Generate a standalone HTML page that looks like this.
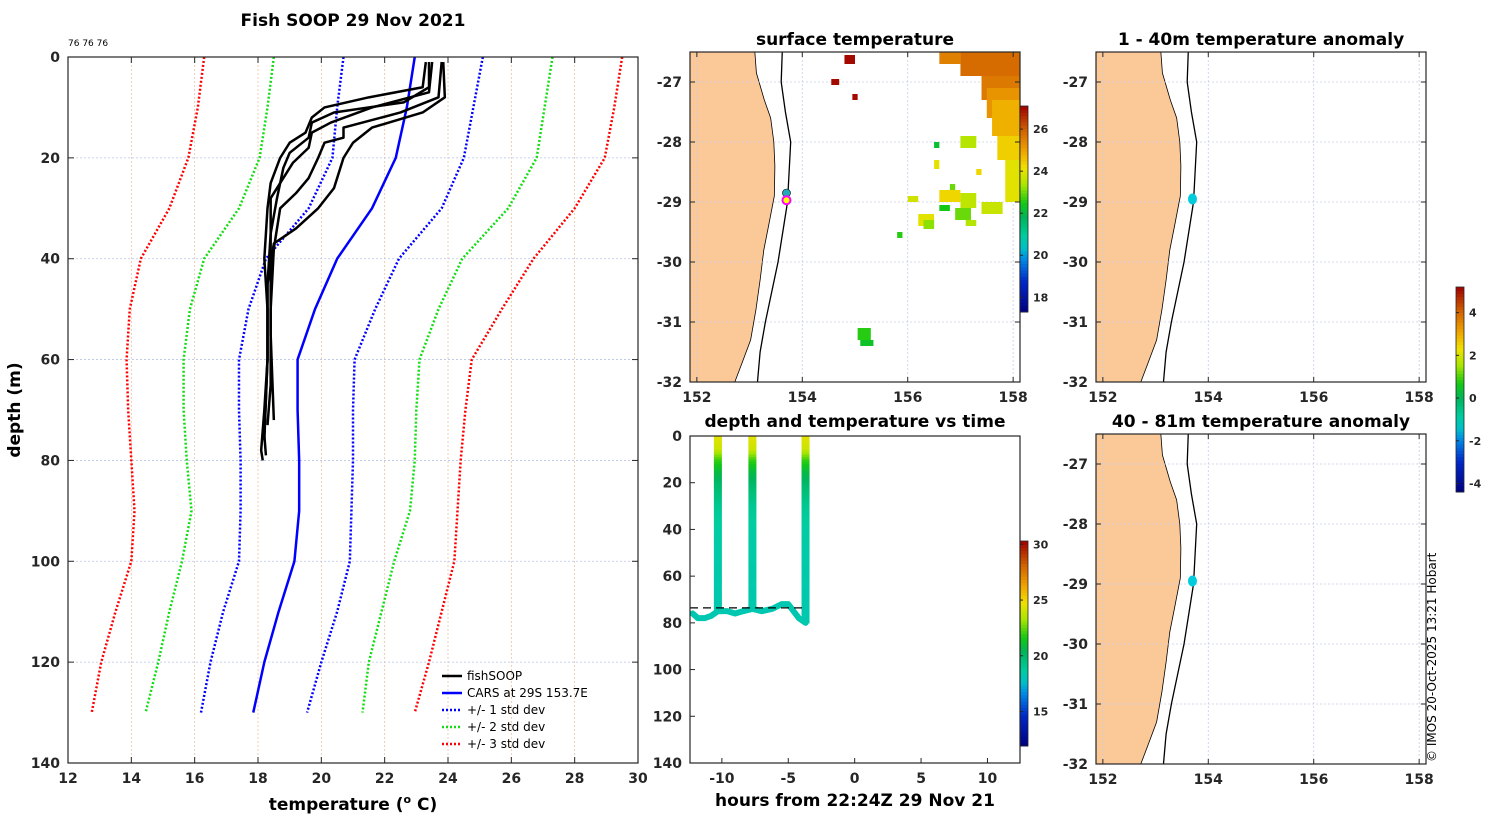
<!DOCTYPE html>
<html><head><meta charset="utf-8"><style>
html,body{margin:0;padding:0;background:#fff;}
svg{display:block;font-family:"DejaVu Sans","Liberation Sans",sans-serif;}
.tk{font-size:14px;font-weight:bold;fill:#262626;}
.tt{font-size:17px;font-weight:bold;fill:#000;}
</style></head><body>
<svg id="fig" width="1500" height="820" viewBox="0 0 1500 820"></svg>
<script>
// ---------- profile chart data ----------
const stdDepths = [0,10,20,30,40,50,60,70,80,90,100,110,120,130];
const red1 = [16.3,16.1,15.8,15.2,14.3,13.95,13.85,13.9,14.0,14.1,14.0,13.5,13.05,12.75];
const green1 = [18.5,18.3,18.05,17.4,16.3,15.85,15.65,15.65,15.75,15.9,15.6,15.2,14.85,14.45];
const blue1 = [20.7,20.5,20.35,19.6,18.25,17.7,17.4,17.4,17.45,17.45,17.4,16.9,16.5,16.2];
const cars = [22.95,22.7,22.35,21.6,20.5,19.8,19.25,19.25,19.3,19.3,19.15,18.65,18.2,17.85];
const blue2 = [25.1,24.8,24.5,23.8,22.45,21.7,21.05,21.0,21.0,20.95,20.9,20.5,20.0,19.55];
const green2 = [27.3,27.05,26.8,25.9,24.45,23.7,23.1,23.0,22.95,22.8,22.3,21.9,21.5,21.3];
const red2 = [29.5,29.25,28.95,28.0,26.7,25.7,24.75,24.55,24.4,24.3,24.2,23.8,23.4,22.95];
const fishDepths = [
 [1,6,8,10,12,15,17,20,25,30,40,50,60,70,78,80],
 [1,6,9,11,13,16,19,22,28,35,45,60,75,79],
 [1,7,10,13,15,18,21,25,28,40,55,72],
 [1,8,11,14,16,17,20,24,27,30,38,50,65,73],
 [1,8,11,14,17,20,26,30,34,37,45,60,76]];
const fishTemps = [
 [23.3,23.2,21.5,20.1,19.7,19.5,19.0,18.7,18.4,18.3,18.2,18.3,18.3,18.2,18.1,18.15],
 [23.4,23.4,22.6,20.4,19.7,19.6,19.0,18.8,18.6,18.4,18.3,18.3,18.2,18.25],
 [23.5,23.4,21.6,20.3,19.7,19.6,19.1,18.7,18.4,18.4,18.4,18.5],
 [23.8,23.7,22.5,20.7,20.7,20.1,19.9,19.6,19.2,18.7,18.5,18.4,18.4,18.3],
 [23.85,23.9,23.2,21.6,21.0,20.7,20.4,19.9,19.2,18.5,18.3,18.3,18.2]];
const tempTicks = [12,14,16,18,20,22,24,26,28,30];
const depthTicks = [0,20,40,60,80,100,120,140];

// ---------- map data ----------
const lonTicks = [152,154,156,158];
const latTicks = [-27,-28,-29,-30,-31,-32];
const coastLat = [-26.5,-26.85,-27.3,-27.6,-28.0,-28.4,-28.9,-29.4,-29.8,-30.3,-30.8,-31.3,-31.7,-32.0];
const coastLon = [153.10,153.13,153.28,153.40,153.46,153.48,153.47,153.36,153.27,153.20,153.12,153.02,152.85,152.72];
const shelfLat = [-26.5,-27.0,-27.5,-28.0,-28.5,-29.0,-29.5,-30.0,-30.5,-31.0,-31.5,-32.0];
const shelfLon = [153.62,153.60,153.68,153.78,153.75,153.72,153.63,153.54,153.42,153.30,153.20,153.15];
// SST blocks: lon0, lat0, lon1, lat1, temperature
const sstLon0 = [156.6,157.0,157.4,157.5,157.7,157.85,156.6,157.0,157.4,156.9,156.2,156.6,157.1,156.5,157.2,154.8,154.55,154.95,155.05,155.1,156.5,156.8,155.8,157.3,157.6,156.0,156.3,157.0];
const sstLat0 = [-26.5,-26.5,-26.9,-27.1,-27.6,-28.3,-28.8,-28.85,-29.0,-29.1,-29.2,-29.05,-29.3,-28.3,-27.9,-26.55,-26.95,-27.2,-31.1,-31.3,-28.0,-28.7,-29.5,-28.45,-27.3,-28.9,-29.3,-27.9];
const sstLon1 = [157.0,158.13,158.13,158.13,158.13,158.13,157.0,157.3,157.8,157.2,156.5,156.8,157.3,156.6,157.3,155.0,154.7,155.05,155.3,155.35,156.6,156.9,155.9,157.4,158.13,156.2,156.5,157.3];
const sstLat1 = [-26.7,-26.9,-27.3,-27.6,-28.3,-29.0,-29.0,-29.1,-29.2,-29.3,-29.4,-29.15,-29.4,-28.45,-28.0,-26.7,-27.05,-27.3,-31.3,-31.4,-28.1,-28.8,-29.6,-28.55,-27.9,-29.0,-29.45,-28.1];
const sstVal = [25.5,25.8,25.6,25.2,24.4,24.0,24.3,23.6,23.7,23.0,24.0,22.5,23.5,24.0,23.8,27.0,27.0,27.0,22.6,22.3,22.2,23.0,22.6,24.3,24.8,23.8,23.2,23.5];
const pointLon = 153.7, pointLat = -28.95;

// ---------- depth/time data ----------
const castHours = [-10.3,-7.7,-3.7];
const castMaxDepth = [76,74,80];
const profDepth = [0,5,10,15,20,30,40,60,80];
const profTemp = [24.5,24.0,22.0,20.8,20.0,19.0,18.6,18.4,18.3];
const bottomHours = [-12.2,-11.8,-11.3,-10.8,-10.3,-9.6,-9.0,-8.4,-7.7,-7.0,-6.2,-5.5,-5.0,-4.6,-4.2,-3.7];
const bottomDepth = [76,78,78,77,75,75,76,75,74,75,74,72,72,75,78,80];
const dashDepth = 73.6;
const hourTicks = [-10,-5,0,5,10];
const dtDepthTicks = [0,20,40,60,80,100,120,140];

const NS="http://www.w3.org/2000/svg";
const svg=document.getElementById('fig');
function el(tag,attrs,parent,txt){const e=document.createElementNS(NS,tag);for(const k in attrs)e.setAttribute(k,attrs[k]);if(txt!==undefined)e.textContent=txt;(parent||svg).appendChild(e);return e;}
const CM=[[0,0,0,128],[0.15,0,40,200],[0.26,0,140,230],[0.31,0,190,200],[0.37,0,205,160],[0.46,0,180,90],[0.53,20,200,20],[0.62,170,230,0],[0.70,240,225,0],[0.78,240,165,0],[0.88,210,100,0],[1,160,0,0]];
function jet(t){t=Math.max(0,Math.min(1,t));for(let i=1;i<CM.length;i++){if(t<=CM[i][0]){const a=CM[i-1],b=CM[i],f=(t-a[0])/(b[0]-a[0]);return `rgb(${Math.round(a[1]+f*(b[1]-a[1]))},${Math.round(a[2]+f*(b[2]-a[2]))},${Math.round(a[3]+f*(b[3]-a[3]))})`;}}return 'rgb(160,0,0)';}

// ===== Profile panel =====
const PX0=68,PX1=638,PY0=57,PY1=763;
const px=t=>PX0+(t-12)/18*(PX1-PX0), py=d=>PY0+d/140*(PY1-PY0);
const gP=el('g',{},svg);


tempTicks.forEach(t=>{const l=el('line',{x1:px(t),x2:px(t),y1:PY0,y2:PY1,stroke:'#e8c0a8','stroke-width':0.8,'stroke-dasharray':'2,2'},gP);});
depthTicks.forEach(d=>{const l=el('line',{x1:PX0,x2:PX1,y1:py(d),y2:py(d),stroke:'#b8c4e8','stroke-width':0.8,'stroke-dasharray':'2,2'},gP);});
function poly(temps,depths,color,dotted,w,name){const pts=temps.map((t,i)=>px(t)+','+py(depths[i])).join(' ');const p=el('polyline',{points:pts,fill:'none',stroke:color,'stroke-width':w,'stroke-dasharray':dotted?'2,2':'none','stroke-linejoin':'round'},gP);}
poly(red1,stdDepths,'#f00',true,2.5,'std3-lower');
poly(green1,stdDepths,'#1d1',true,2.5,'std2-lower');
poly(blue1,stdDepths,'#00f',true,2.5,'std1-lower');
poly(blue2,stdDepths,'#00f',true,2.5,'std1-upper');
poly(green2,stdDepths,'#1d1',true,2.5,'std2-upper');
poly(red2,stdDepths,'#f00',true,2.5,'std3-upper');
poly(cars,stdDepths,'#00f',false,2.5,'cars-profile');
fishTemps.forEach((ts,i)=>poly(ts,fishDepths[i],'#000',false,2.5,'fish-profile'));
el('rect',{x:PX0,y:PY0,width:PX1-PX0,height:PY1-PY0,fill:'none',stroke:'#262626','stroke-width':1.2},gP);
tempTicks.forEach(t=>{el('line',{x1:px(t),x2:px(t),y1:PY1,y2:PY1-6,stroke:'#262626'},gP);el('line',{x1:px(t),x2:px(t),y1:PY0,y2:PY0+6,stroke:'#262626'},gP);const x=el('text',{x:px(t),y:PY1+20,'text-anchor':'middle',class:'tk'},gP,t);});
depthTicks.forEach(d=>{el('line',{x1:PX0,x2:PX0+6,y1:py(d),y2:py(d),stroke:'#262626'},gP);el('line',{x1:PX1,x2:PX1-6,y1:py(d),y2:py(d),stroke:'#262626'},gP);const x=el('text',{x:PX0-8,y:py(d)+5,'text-anchor':'end',class:'tk'},gP,d);});
let t=el('text',{x:353,y:26,'text-anchor':'middle',class:'tt'},gP,'Fish SOOP 29 Nov 2021');
t=el('text',{x:68,y:46,'font-size':'9px',fill:'#000'},gP,'76 76 76');
t=el('text',{x:20,y:410,'text-anchor':'middle',class:'tt',transform:'rotate(-90 20 410)'},gP,'depth (m)');
t=el('text',{x:353,y:810,'text-anchor':'middle',class:'tt'},gP);t.innerHTML='temperature (<tspan font-size="11" dy="-7">o</tspan><tspan dy="7"> C)</tspan>';
const lg=el('g',{},gP);
const legNames=['fishSOOP','CARS at 29S 153.7E','+/- 1 std dev','+/- 2 std dev','+/- 3 std dev'];
const legCols=['#000','#00f','#00f','#1d1','#f00'];
legNames.forEach((n,i)=>{const y=676+i*17;const g=el('g',{},lg);el('line',{x1:442,x2:462,y1:y,y2:y,stroke:legCols[i],'stroke-width':2.5,'stroke-dasharray':i>1?'2,2':'none'},g);el('text',{x:467,y:y+4,'font-size':'12px',fill:'#000'},g,n);});

// ===== Map panels =====
function drawMap(ox,oy,title,name,sst){
 const X0=ox,X1=ox+330,Y0=oy,Y1=oy+330;
 const mx=lon=>X0+(lon-151.87)/(158.13-151.87)*330, my=lat=>Y0+(-26.5-lat)/5.5*330;
 const g=el('g',{},svg);
 const land=[mx(151.87)+','+my(-26.5)].concat(coastLat.map((la,i)=>mx(coastLon[i])+','+my(la))).concat([mx(151.87)+','+my(-32)]).join(' ');
 const lp=el('polygon',{points:land,fill:'#fbc998',stroke:'#000','stroke-width':0.8},g);
 lonTicks.forEach(l=>el('line',{x1:mx(l),x2:mx(l),y1:Y0,y2:Y1,stroke:'#c8cce8','stroke-width':0.8,'stroke-dasharray':'2,2'},g));
 latTicks.forEach(l=>el('line',{x1:X0,x2:X1,y1:my(l),y2:my(l),stroke:'#c8cce8','stroke-width':0.8,'stroke-dasharray':'2,2'},g));
 if(sst){sstVal.forEach((v,i)=>{const r=el('rect',{x:mx(sstLon0[i]),y:my(sstLat0[i]),width:mx(sstLon1[i])-mx(sstLon0[i]),height:my(sstLat1[i])-my(sstLat0[i]),fill:jet((v-17.3)/9.8)},g);});}
 const sp=el('polyline',{points:shelfLat.map((la,i)=>mx(shelfLon[i])+','+my(la)).join(' '),fill:'none',stroke:'#000','stroke-width':1.3},g);
 if(sst){el('circle',{cx:mx(pointLon),cy:my(pointLat+0.1),r:4,fill:'#2ab',stroke:'#000','stroke-width':0.6},g);const c=el('circle',{cx:mx(pointLon),cy:my(pointLat-0.02),r:4,fill:'#ff0',stroke:'#f0f','stroke-width':2},g);}
 else{const c=el('ellipse',{cx:mx(pointLon),cy:my(pointLat),rx:4.5,ry:5.5,fill:'#0cd'},g);}
 el('rect',{x:X0,y:Y0,width:330,height:330,fill:'none',stroke:'#262626','stroke-width':1.2},g);
 lonTicks.forEach(l=>{el('line',{x1:mx(l),x2:mx(l),y1:Y1,y2:Y1-5,stroke:'#262626'},g);el('line',{x1:mx(l),x2:mx(l),y1:Y0,y2:Y0+5,stroke:'#262626'},g);const x=el('text',{x:mx(l),y:Y1+20,'text-anchor':'middle',class:'tk'},g,l);});
 latTicks.forEach(l=>{el('line',{x1:X0,x2:X0+5,y1:my(l),y2:my(l),stroke:'#262626'},g);el('line',{x1:X1,x2:X1-5,y1:my(l),y2:my(l),stroke:'#262626'},g);const x=el('text',{x:X0-8,y:my(l)+5,'text-anchor':'end',class:'tk'},g,l);});
 const tt=el('text',{x:X0+165,y:Y0-7,'text-anchor':'middle',class:'tt'},g,title);
}
drawMap(690,52,'surface temperature','sst-map',true);
drawMap(1096,52,'1 - 40m temperature anomaly','anomaly-map-shallow',false);
drawMap(1096,434,'40 - 81m temperature anomaly','anomaly-map-deep',false);

// ===== colorbars =====
function colorbar(x,y0,y1,vmin,vmax,ticks,name){
 const g=el('g',{},svg);
 const n=64,h=(y1-y0)/n;
 for(let i=0;i<n;i++)el('rect',{x:x,y:y1-(i+1)*h,width:8,height:h+0.5,fill:jet((i+0.5)/n)},g);
 el('rect',{x:x,y:y0,width:8,height:y1-y0,fill:'none',stroke:'#262626','stroke-width':0.8},g);
 ticks.forEach(v=>{const y=y1-(v-vmin)/(vmax-vmin)*(y1-y0);el('line',{x1:x,x2:x+3,y1:y,y2:y,stroke:'#262626'},g);const s=el('text',{x:x+13,y:y+4,'font-size':'11px','font-weight':'bold',fill:'#262626'},g,v);});
}
colorbar(1020,106,312,17.3,27.1,[18,20,22,24,26],'sst-colorbar');
colorbar(1456,287,492,-4.4,5.2,[-4,-2,0,2,4],'anomaly-colorbar');
colorbar(1020,541,746,11.9,30.3,[15,20,25,30],'depth-time-colorbar');

// ===== depth vs time =====
const DX0=690,DX1=1020,DY0=436,DY1=763;
const dx=h=>DX0+(h+12.4)/24.85*(DX1-DX0), dy=d=>DY0+d/140*(DY1-DY0);
const gD=el('g',{},svg);
function interpT(d){for(let i=1;i<profDepth.length;i++){if(d<=profDepth[i]){const f=(d-profDepth[i-1])/(profDepth[i]-profDepth[i-1]);return profTemp[i-1]+f*(profTemp[i]-profTemp[i-1]);}}return profTemp[profTemp.length-1];}
const bp=el('polyline',{points:bottomHours.map((h,i)=>dx(h)+','+dy(bottomDepth[i])).join(' '),fill:'none',stroke:jet((18.3-11.9)/18.4),'stroke-width':6,'stroke-linejoin':'round','stroke-linecap':'round'},gD);
castHours.forEach((h,i)=>{for(let d=0;d<castMaxDepth[i];d+=1){const r=el('rect',{x:dx(h)-4,y:dy(d),width:8,height:dy(1)-dy(0)+0.6,fill:jet((interpT(d)-11.9)/18.4)},gD);}});
const dl=el('line',{x1:DX0,x2:dx(-3.7),y1:dy(dashDepth),y2:dy(dashDepth),stroke:'#000','stroke-width':1.2,'stroke-dasharray':'8,5'},gD);
el('rect',{x:DX0,y:DY0,width:DX1-DX0,height:DY1-DY0,fill:'none',stroke:'#262626','stroke-width':1.2},gD);
hourTicks.forEach(h=>{el('line',{x1:dx(h),x2:dx(h),y1:DY1,y2:DY1-5,stroke:'#262626'},gD);const s=el('text',{x:dx(h),y:DY1+20,'text-anchor':'middle',class:'tk'},gD,h);});
dtDepthTicks.forEach(d=>{el('line',{x1:DX0,x2:DX0+5,y1:dy(d),y2:dy(d),stroke:'#262626'},gD);const s=el('text',{x:DX0-8,y:dy(d)+5,'text-anchor':'end',class:'tk'},gD,d);});
t=el('text',{x:855,y:427,'text-anchor':'middle',class:'tt'},gD,'depth and temperature vs time');
t=el('text',{x:855,y:806,'text-anchor':'middle',class:'tt'},gD,'hours from 22:24Z 29 Nov 21');
t=el('text',{x:1436,y:762,'font-size':'12px',fill:'#000',transform:'rotate(-90 1436 762)'},svg,'© IMOS 20-Oct-2025 13:21 Hobart');
</script>
</body></html>
